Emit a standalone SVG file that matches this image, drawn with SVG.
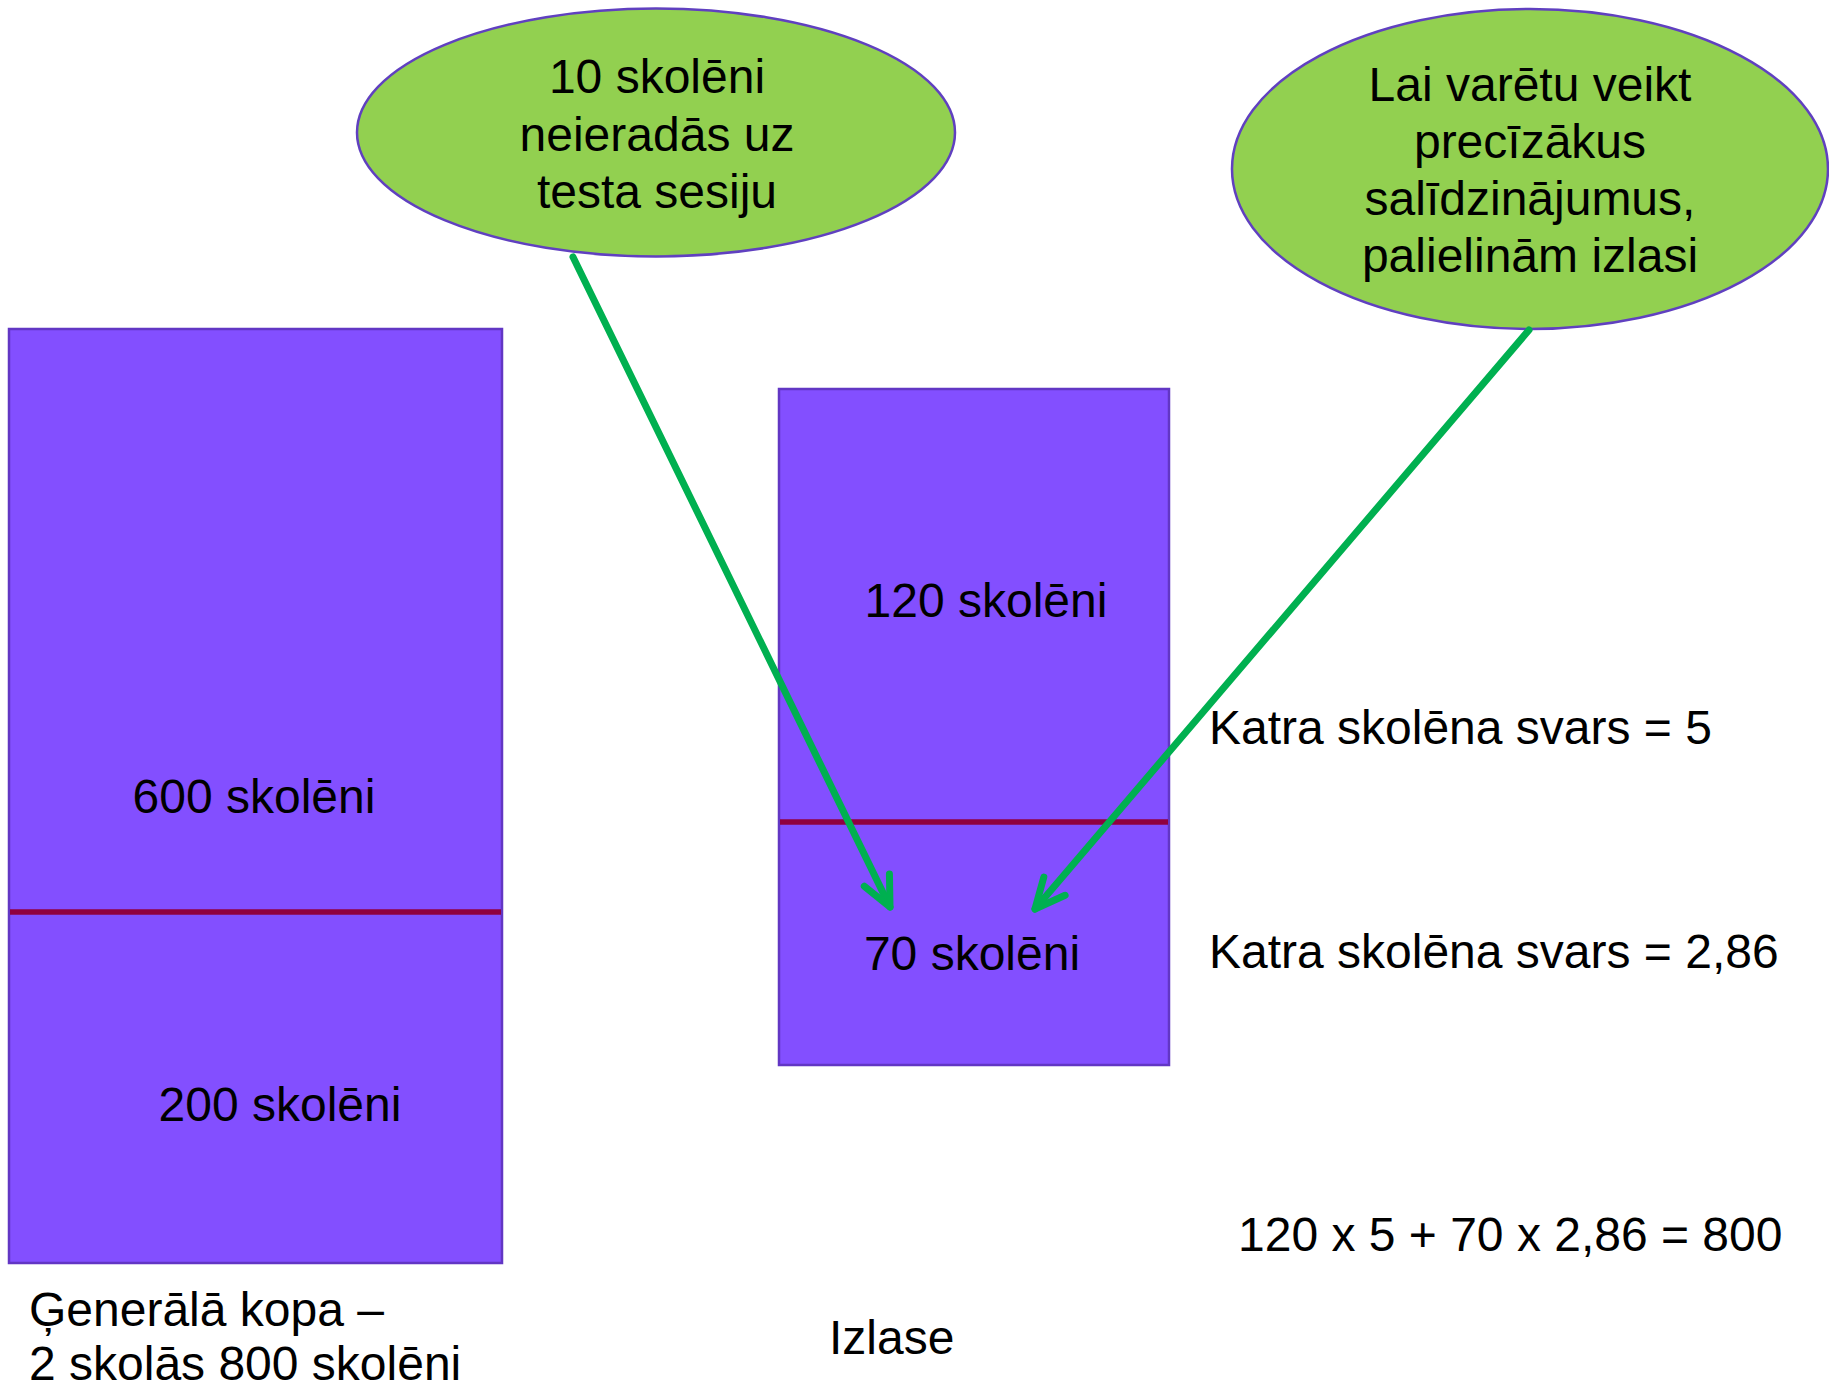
<svg xmlns="http://www.w3.org/2000/svg" width="1829" height="1387" viewBox="0 0 1829 1387">
<style>
text{font-family:"Liberation Sans",Arial,sans-serif;font-size:48px;fill:#000}
.c{text-anchor:middle}
.box{fill:#834FFF;stroke:#6236C4;stroke-width:2.5}
.div{stroke:#900040;stroke-width:5.5}
.bubble{fill:#92D050;stroke:#6040C0;stroke-width:2.5}
.conn{fill:none;stroke:#00B050;stroke-width:7;stroke-linecap:round}
</style>
<defs>
<marker id="arr" markerUnits="userSpaceOnUse" orient="auto" refX="0" refY="0" markerWidth="80" markerHeight="80" viewBox="-40 -40 80 80" overflow="visible">
<path d="M-30,-14 L0,0 L-30,14" fill="none" stroke="#00B050" stroke-width="7" stroke-linecap="round" stroke-linejoin="round"/>
</marker>
</defs>
<rect width="1829" height="1387" fill="#fff"/>
<g id="population">
<rect class="box" x="9" y="329" width="493" height="934"/>
<line class="div" x1="10" y1="912" x2="501" y2="912"/>
<text class="c" x="254" y="813">600 skolēni</text>
<text class="c" x="280" y="1121">200 skolēni</text>
<text x="29" y="1326">Ģenerālā kopa –</text>
<text x="29" y="1380">2 skolās 800 skolēni</text>
</g>
<g id="sample">
<rect class="box" x="779" y="389" width="390" height="676"/>
<line class="div" x1="780" y1="822" x2="1168" y2="822"/>
<text class="c" x="986" y="617">120 skolēni</text>
<text class="c" x="972" y="970">70 skolēni</text>
<text x="829" y="1354">Izlase</text>
</g>
<g id="bubble1">
<ellipse class="bubble" cx="656" cy="132.5" rx="299" ry="124"/>
<text class="c" x="657" y="93">10 skolēni</text>
<text class="c" x="657" y="151">neieradās uz</text>
<text class="c" x="657" y="208">testa sesiju</text>
</g>
<g id="bubble2">
<ellipse class="bubble" cx="1530" cy="169" rx="298" ry="160"/>
<text class="c" x="1530" y="101">Lai varētu veikt</text>
<text class="c" x="1530" y="158">precīzākus</text>
<text class="c" x="1530" y="215">salīdzinājumus,</text>
<text class="c" x="1530" y="272">palielinām izlasi</text>
</g>
<g id="weights">
<text x="1209" y="744">Katra skolēna svars = 5</text>
<text x="1209" y="968">Katra skolēna svars = 2,86</text>
<text x="1238" y="1251">120 x 5 + 70 x 2,86 = 800</text>
</g>
<g id="connectors">
<line class="conn" x1="573" y1="257" x2="890" y2="907" marker-end="url(#arr)"/>
<line class="conn" x1="1529" y1="330" x2="1035" y2="909" marker-end="url(#arr)"/>
</g>
</svg>
